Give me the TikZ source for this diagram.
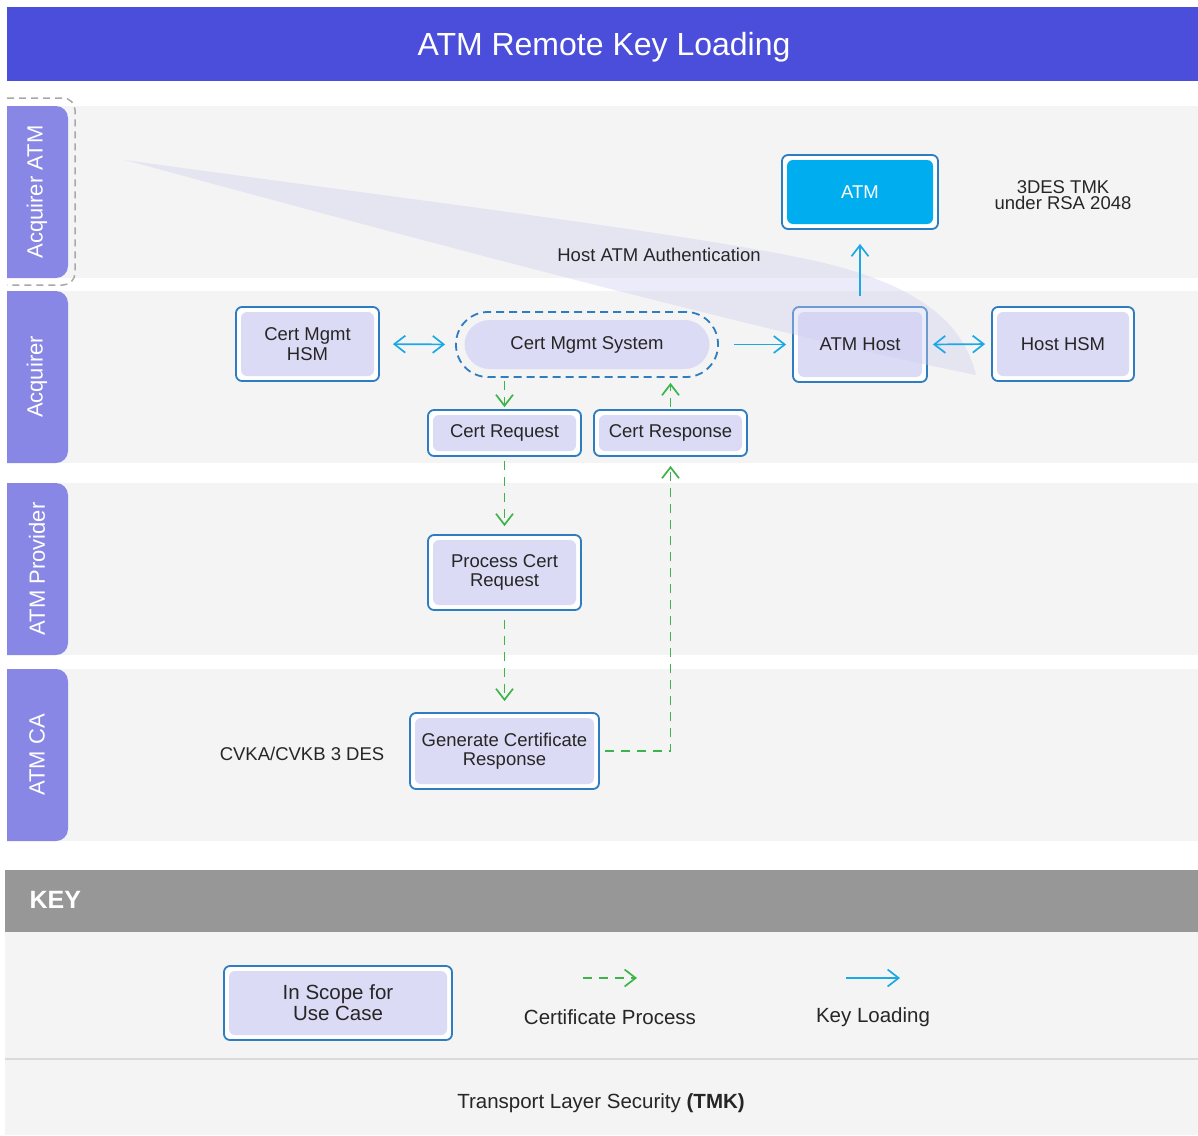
\documentclass[tikz,border=0pt]{standalone}
\usepackage{fontspec}
\setmainfont{Liberation Sans}
\usetikzlibrary{arrows.meta}

\definecolor{titleblue}{HTML}{4B4EDB}
\definecolor{lanetab}{HTML}{8987E5}
\definecolor{lanebg}{HTML}{F4F4F4}
\definecolor{boxline}{HTML}{2F7DC1}
\definecolor{boxfill}{HTML}{DCDBF5}
\definecolor{atmcyan}{HTML}{00AEEF}
\definecolor{keyblue}{HTML}{1BA9E6}
\definecolor{certgreen}{HTML}{3CB44A}
\definecolor{keygray}{HTML}{979797}
\definecolor{ink}{HTML}{262626}
\definecolor{dashgray}{HTML}{A8A8A8}
\definecolor{rulegray}{HTML}{DADADA}
\definecolor{wedgefill}{RGB}{205,205,240}

\newcommand\fsz[2]{\fontsize{#1}{#2}\selectfont}

\tikzset{
  >={Straight Barb[length=11pt,width=17pt]},
  inscope/.style={draw=boxline, line width=1.8pt, fill=white, rounded corners=6pt,
    inner sep=0pt, align=center, text=ink, font=\fsz{18.5}{19.5},
    path picture={\fill[boxfill]
      ([shift={(5pt,-5pt)}]path picture bounding box.north west) rectangle
      ([shift={(-5pt,5pt)}]path picture bounding box.south east);}},
  devicebox/.style={inscope, text=white,
    path picture={\fill[atmcyan]
      ([shift={(5pt,-5pt)}]path picture bounding box.north west) rectangle
      ([shift={(-5pt,5pt)}]path picture bounding box.south east);}},
  systembox/.style={draw=boxline, line width=1.8pt, dash pattern=on 8pt off 5pt,
    rounded corners=32pt, inner sep=0pt, align=center, text=ink, font=\fsz{18.5}{19.5},
    path picture={\fill[boxfill, rounded corners=25pt]
      ([shift={(8.5pt,-8pt)}]path picture bounding box.north west) rectangle
      ([shift={(-8.5pt,8pt)}]path picture bounding box.south east);}},
  lanelabel/.style={rotate=90, text=white, font=\fsz{22}{24}},
  plaintext/.style={text=ink, align=center, font=\fsz{18.5}{19.5}},
  keytext/.style={text=ink, align=center, font=\fsz{20.5}{21.5}},
  keyarrow/.style={draw=keyblue, line width=1.7pt},
  certarrow/.style={draw=certgreen, line width=1.7pt, dash pattern=on 9pt off 7pt},
}

\begin{document}
\begin{tikzpicture}[x=1pt, y=-1pt]
\useasboundingbox (0,0) rectangle (1198,1135);
\fill[white] (0,0) rectangle (1198,1135);

% title bar
\fill[titleblue] (7,7) rectangle (1198,81);
\node[text=white, font=\fsz{32}{36}] (title) at (604,47) {ATM Remote Key Loading};

% swim lanes
\fill[lanebg] (7,106) rectangle (1198,278);
\fill[lanebg] (7,291) rectangle (1198,463);
\fill[lanebg] (7,483) rectangle (1198,655);
\fill[lanebg] (7,669) rectangle (1198,841);
\begin{scope}
  \clip (7,0) rectangle (1198,1135);
  \fill[lanetab, rounded corners=12pt] (-20,106) rectangle (68,278);
  \fill[lanetab, rounded corners=12pt] (-20,291) rectangle (68,463);
  \fill[lanetab, rounded corners=12pt] (-20,483) rectangle (68,655);
  \fill[lanetab, rounded corners=12pt] (-20,669) rectangle (68,841);
\end{scope}
\draw[dashgray, line width=1.5pt, dash pattern=on 7pt off 5pt, rounded corners=12pt]
  (7,98) -- (75,98) -- (75,285) -- (7,285);
\node[lanelabel] (lacqatm) at (37,192) {Acquirer ATM};
\node[lanelabel] (lacq) at (37,377) {Acquirer};
\node[lanelabel] (lprov) at (37,569) {ATM Provider};
\node[lanelabel] (lca) at (37,755) {ATM CA};

% process nodes
\node[devicebox, minimum width=156pt, minimum height=74pt] (atm) at (860,192) {ATM};
\node[inscope, minimum width=143pt, minimum height=74pt] (hsm) at (307.5,344) {Cert Mgmt\\HSM};
\node[systembox, minimum width=262pt, minimum height=65pt] (cms) at (587,344.5) {Cert Mgmt System};
\node[inscope, minimum width=134pt, minimum height=75pt] (athost) at (860,344.5) {};
\node[inscope, minimum width=142pt, minimum height=74pt] (hosthsm) at (1063,344) {Host HSM};
\node[inscope, minimum width=153pt, minimum height=46pt] (req) at (504.5,433) {Cert Request};
\node[inscope, minimum width=153pt, minimum height=46pt] (resp) at (670.5,433) {Cert Response};
\node[inscope, minimum width=153pt, minimum height=75pt] (proc) at (504.5,572.5) {Process Cert\\Request};
\node[inscope, minimum width=189pt, minimum height=76pt] (gen) at (504.5,751) {Generate Certificate\\Response};

% host to ATM authentication band
\fill[wedgefill, opacity=0.38]
  (125,160) .. controls (450,205) and (700,235) .. (820,262)
  .. controls (930,288) and (965,330) .. (976,375)
  .. controls (800,340) and (500,262) .. (125,160) -- cycle;
\node[plaintext] (athostlabel) at (athost) {ATM Host};

% free-standing labels
\node[plaintext, font=\fsz{18.5}{16.5}] (tmk) at (1063,195) {3DES TMK\\under RSA 2048};
\node[plaintext] (auth) at (659,255) {Host ATM Authentication};
\node[plaintext] (cvk) at (302,754) {CVKA/CVKB 3 DES};

% key loading connectors
\draw[keyarrow, <->, shorten <=13pt, shorten >=10pt] (hsm.east) -- (cms.west);
\draw[keyarrow, ->, shorten <=15pt, shorten >=6pt] (cms.east) -- (athost.west);
\draw[keyarrow, <->, shorten <=5pt, shorten >=6pt] (athost.east) -- (hosthsm.west);
\draw[keyarrow, ->, shorten <=10pt, shorten >=14pt] (athost.north) -- (atm.south);

% certificate process connectors
\draw[certarrow, ->, shorten <=3pt, shorten >=2pt] (req.north |- cms.south) -- (req.north);
\draw[certarrow, ->, shorten <=2pt, shorten >=5pt] (resp.north) -- (resp.north |- cms.south);
\draw[certarrow, ->, shorten <=4pt, shorten >=8pt] (req.south) -- (proc.north);
\draw[certarrow, ->, shorten <=9pt, shorten >=11pt] (proc.south) -- (gen.north);
\draw[certarrow, ->, shorten <=5pt, shorten >=9pt] (gen.east) -- (gen.east -| resp.south) -- (resp.south);

% key
\fill[keygray] (5,870) rectangle (1198,932);
\node[anchor=west, text=white, font=\fsz{25}{28}\bfseries] (keytitle) at (26,900) {KEY};
\fill[lanebg] (5,932) rectangle (1198,1135);
\draw[rulegray, line width=1.5pt] (5,1059) -- (1198,1059);
\node[inscope, font=\fsz{20.5}{21}, minimum width=228pt, minimum height=74pt] (keybox) at (338,1003) {In Scope for\\Use Case};
\coordinate (certa) at (583,978);
\coordinate (certb) at (637,978);
\draw[certarrow, ->] (certa) -- (certb);
\node[keytext] (certtxt) at (610,1017) {Certificate Process};
\coordinate (keya) at (846,978);
\coordinate (keyb) at (900,978);
\draw[keyarrow, ->] (keya) -- (keyb);
\node[keytext] (keytxt) at (873,1017) {Key Loading};
\node[keytext] (tls) at (601,1103) {Transport Layer Security \textbf{(TMK)}};
\end{tikzpicture}
\end{document}
